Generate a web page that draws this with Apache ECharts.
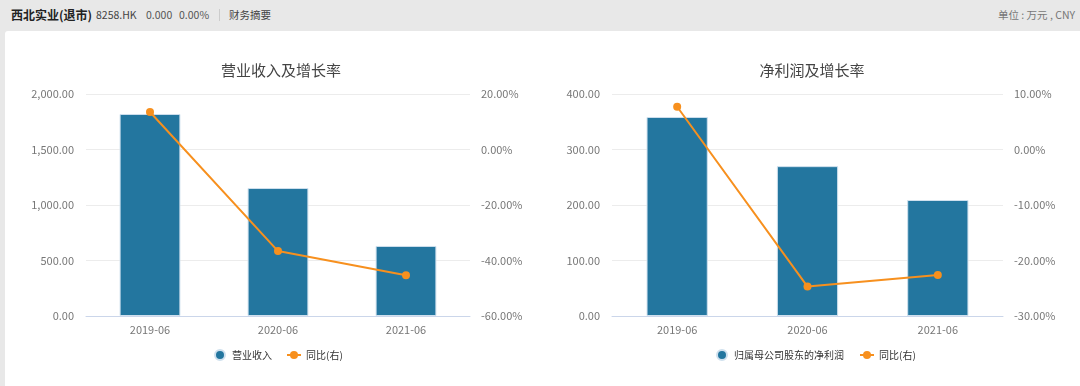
<!DOCTYPE html>
<html><head><meta charset="utf-8">
<script src="https://cdn.jsdelivr.net/npm/echarts@6/dist/echarts.min.js"></script>
<style>
html,body{margin:0;padding:0;width:1080px;height:386px;background:#e8e8e8;overflow:hidden;font-family:"Noto Sans CJK SC","Noto Sans",sans-serif;}
#hdr{position:absolute;left:0;top:0;width:1080px;height:31px;}
#hdr span{position:absolute;top:8px;font-size:10.5px;color:#444;white-space:nowrap;line-height:14px;}
#hdr .t{left:11px;top:7px;font-size:12px;font-weight:bold;color:#222;line-height:16px;}
#hdr .sep{left:219px;top:9px;width:1px;height:12px;background:#ccc;}
#panel{position:absolute;left:5px;top:31px;width:1075px;height:355px;background:#fff;border-radius:3px 0 0 0;}
#c{position:absolute;left:0;top:0;width:1080px;height:386px;}
</style></head>
<body>
<div id="hdr">
<span class="t">西北实业(退市)</span>
<span style="left:96px">8258.HK</span>
<span style="left:146px;color:#555">0.000</span>
<span style="left:179px;color:#555">0.00%</span>
<span class="sep"></span>
<span style="left:229px">财务摘要</span>
<span style="left:998px;color:#777">单位 : 万元 , CNY</span>
</div>
<div id="panel"></div>
<div id="c"></div>
<script>
var categories = ['2019-06', '2020-06', '2021-06'];
var revenue = [1820, 1153, 631];
var revenueYoY = [13.5, -36.6, -45.3];
var netProfit = [358.6, 270, 209];
var netProfitYoY = [7.7, -24.7, -22.6];

var BAR = '#23769f', LINE = '#f7901e', LBL = '#777';
var FONT = '"Noto Sans CJK SC","Noto Sans",sans-serif';
function fmtNum(v){return v.toLocaleString('en-US',{minimumFractionDigits:2,maximumFractionDigits:2});}
function fmtPct(v){return v.toFixed(2)+'%';}

function xAxis(i){return {gridIndex:i,type:'category',data:categories,
  axisLine:{lineStyle:{color:'#cbd6ea'}},axisTick:{lineStyle:{color:'#cbd6ea'},length:5},
  axisLabel:{color:LBL,fontSize:11,margin:8,fontFamily:FONT}};}
function yL(i,max,itv){return {gridIndex:i,type:'value',min:0,max:max,interval:itv,
  axisLine:{show:false},axisTick:{show:false},splitLine:{lineStyle:{color:'#ececec'}},
  axisLabel:{color:LBL,fontSize:11,margin:12,formatter:fmtNum,fontFamily:FONT}};}
function yR(i,min,max,itv){return {gridIndex:i,type:'value',min:min,max:max,interval:itv,position:'right',
  axisLine:{show:false},axisTick:{show:false},splitLine:{show:false},
  axisLabel:{color:LBL,fontSize:11,margin:11,formatter:fmtPct,fontFamily:FONT}};}

var chart = echarts.init(document.getElementById('c'));
chart.setOption({
  animation:false,
  textStyle:{fontFamily:FONT},
  title:[
    {text:'营业收入及增长率',left:276,top:58,textAlign:'center',textStyle:{fontSize:15,fontWeight:'normal',color:'#444',fontFamily:FONT}},
    {text:'净利润及增长率',left:807,top:58,textAlign:'center',textStyle:{fontSize:15,fontWeight:'normal',color:'#444',fontFamily:FONT}}
  ],
  grid:[
    {left:86,right:610,top:94,bottom:70},
    {left:612,right:77,top:94,bottom:70}
  ],
  legend:[
    {data:[{name:'营业收入',icon:'circle'},'同比(右)'],left:209,top:344,itemGap:14,itemWidth:14,itemHeight:10,
     textStyle:{fontSize:10,color:'#333',fontFamily:FONT}},
    {data:[{name:'归属母公司股东的净利润',icon:'circle'},{name:'同比(右) '}],left:711,top:344,itemGap:15,itemWidth:14,itemHeight:10,
     textStyle:{fontSize:10,color:'#333',fontFamily:FONT}}
  ],
  xAxis:[xAxis(0),xAxis(1)],
  yAxis:[yL(0,2000,500),yR(0,-60,20,20),yL(1,400,100),yR(1,-30,10,10)],
  series:[
    {name:'营业收入',type:'bar',xAxisIndex:0,yAxisIndex:0,data:revenue,barWidth:'47.5%',
     itemStyle:{color:BAR,borderColor:'#cfe0ee',borderWidth:1}},
    {name:'同比(右)',type:'line',xAxisIndex:0,yAxisIndex:1,data:revenueYoY,symbol:'circle',symbolSize:8,
     lineStyle:{color:LINE,width:2},itemStyle:{color:LINE}},
    {name:'归属母公司股东的净利润',type:'bar',xAxisIndex:1,yAxisIndex:2,data:netProfit,barWidth:'47%',
     itemStyle:{color:BAR,borderColor:'#cfe0ee',borderWidth:1}},
    {name:'同比(右) ',type:'line',xAxisIndex:1,yAxisIndex:3,data:netProfitYoY,symbol:'circle',symbolSize:8,
     lineStyle:{color:LINE,width:2},itemStyle:{color:LINE}}
  ]
});
</script>
</body></html>
